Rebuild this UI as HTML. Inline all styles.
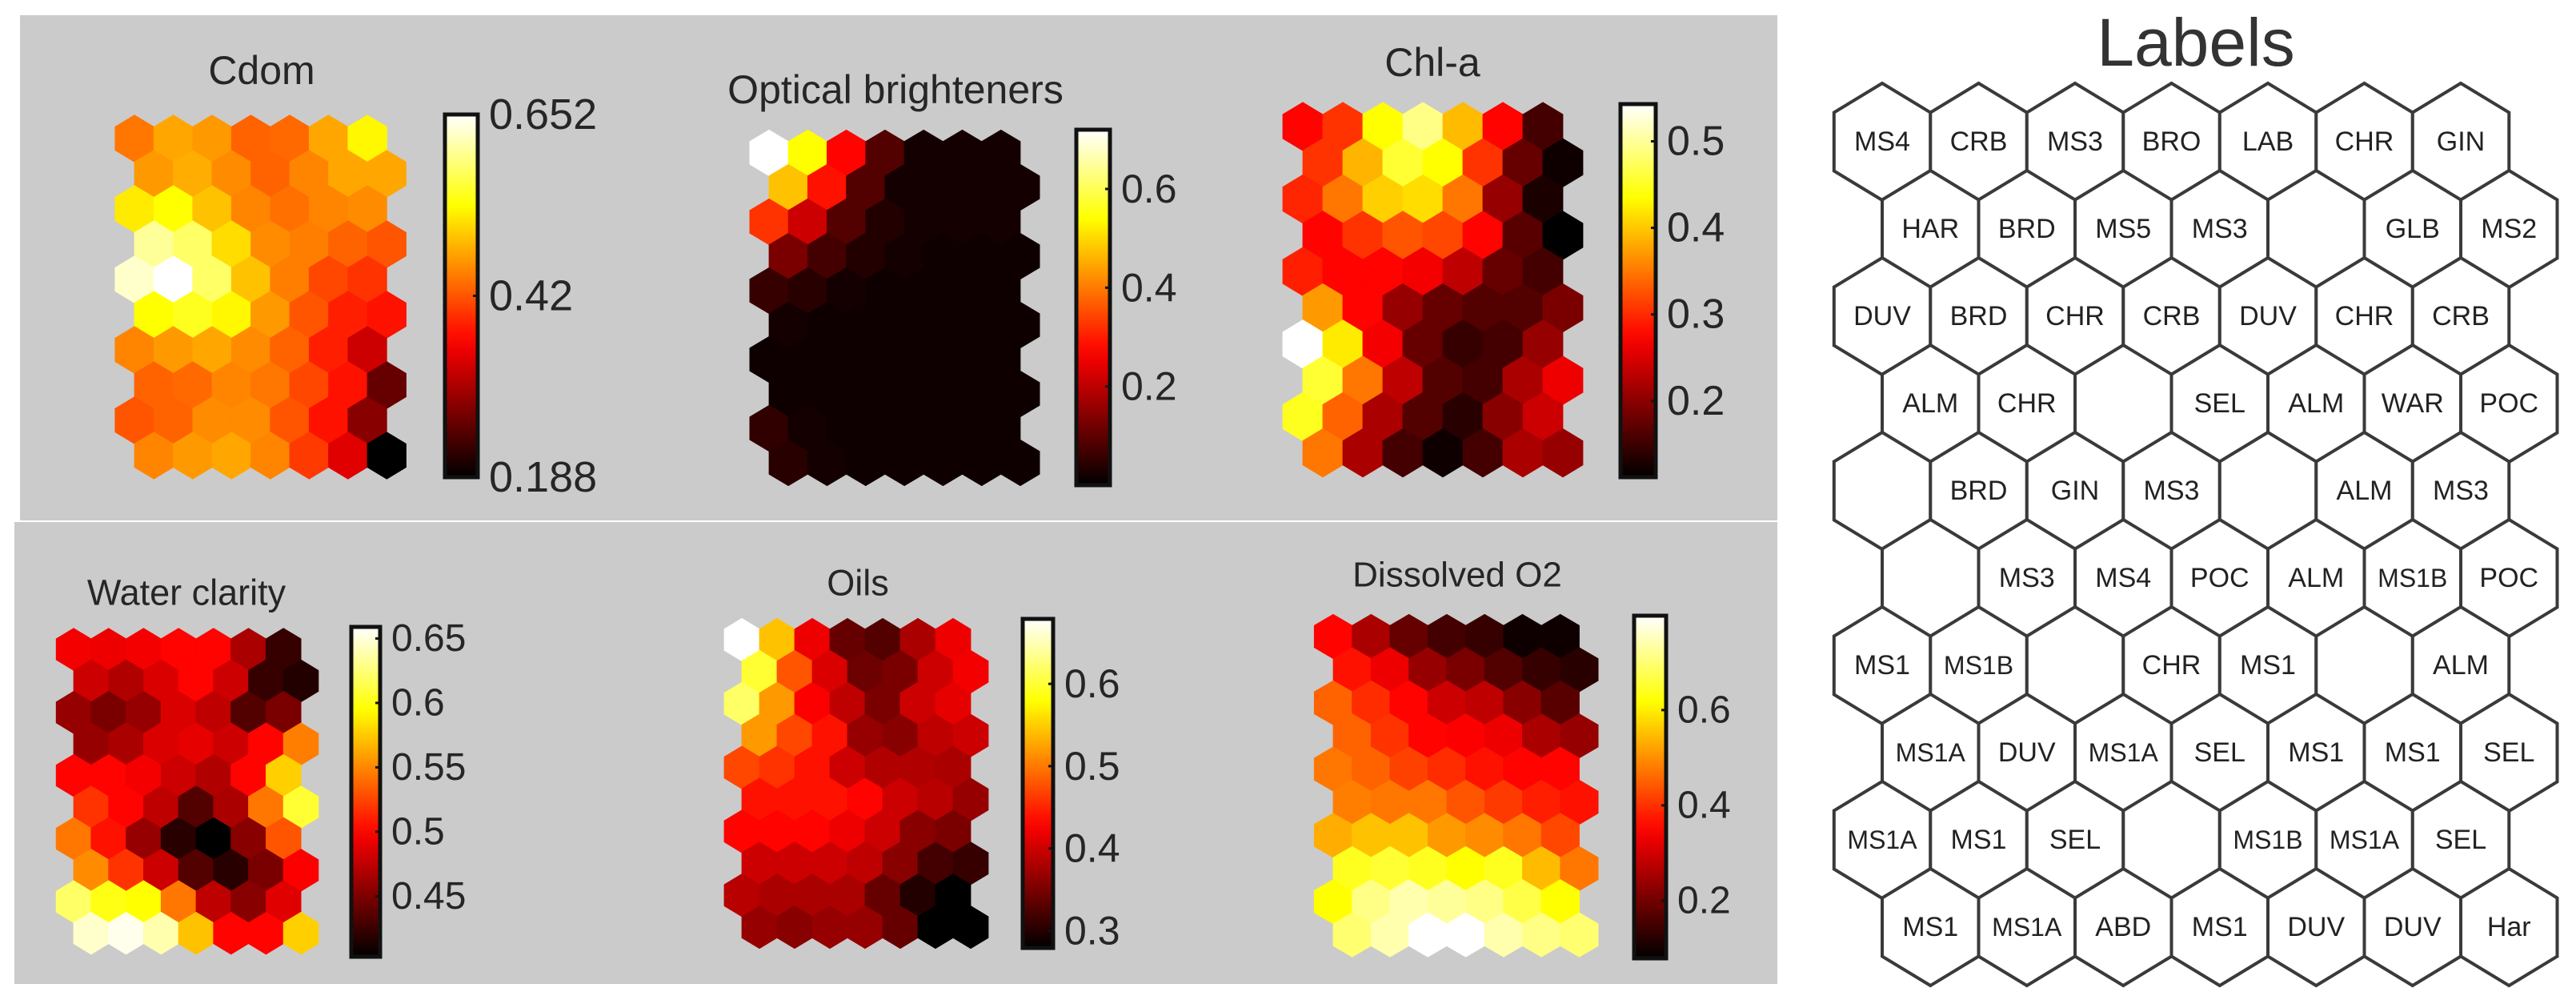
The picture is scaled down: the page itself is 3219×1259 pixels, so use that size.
<!DOCTYPE html>
<html>
<head>
<meta charset="utf-8">
<style>
html,body{margin:0;padding:0;background:#ffffff;}
svg{display:block;}
text{font-family:"Liberation Sans",Arial,sans-serif;}
</style>
</head>
<body>
<svg id="fig" width="3219" height="1259" viewBox="0 0 3219 1259" xmlns="http://www.w3.org/2000/svg">
  <rect x="25" y="19" width="2196" height="631" fill="#cbcbcb"/>
  <rect x="18" y="652" width="2203" height="577" fill="#cbcbcb"/>
  <g id="maps"></g>
  <g id="labels">
    <text x="2744" y="53" font-size="84" fill="#333" text-anchor="middle" dominant-baseline="central">Labels</text>
  </g>
</svg>
<script>
// Normalised values (fraction of each colourbar range), rows top to bottom, 7 columns each
const cdomLevel = [
[.55,.62,.60,.52,.53,.62,.74],
[.60,.63,.58,.52,.57,.62,.62],
[.72,.75,.66,.57,.54,.57,.58],
[.90,.85,.70,.58,.56,.52,.50],
[.95,1.0,.85,.66,.56,.48,.45],
[.75,.78,.74,.60,.50,.42,.40],
[.57,.60,.62,.58,.52,.42,.30],
[.52,.53,.57,.55,.48,.40,.15],
[.50,.52,.58,.58,.50,.40,.20],
[.57,.60,.62,.57,.46,.33,.00]];
const opticalLevel = [
[1.0,.75,.38,.12,.03,.03,.03],
[.66,.40,.12,.03,.03,.03,.03],
[.45,.30,.12,.05,.03,.03,.03],
[.18,.10,.05,.03,.02,.02,.02],
[.08,.06,.03,.02,.02,.02,.02],
[.03,.02,.02,.02,.02,.02,.02],
[.02,.02,.02,.02,.02,.02,.02],
[.02,.02,.02,.02,.02,.02,.02],
[.07,.03,.02,.02,.02,.02,.02],
[.06,.03,.02,.02,.02,.02,.02]];
const chlaLevel = [
[.38,.45,.75,.88,.65,.38,.10],
[.45,.64,.80,.75,.45,.15,.02],
[.43,.55,.68,.70,.55,.22,.04],
[.38,.45,.50,.48,.38,.13,.00],
[.42,.38,.38,.36,.28,.15,.10],
[.60,.38,.22,.15,.12,.12,.18],
[1.0,.72,.36,.15,.08,.10,.22],
[.80,.55,.28,.12,.10,.25,.35],
[.78,.52,.25,.12,.06,.20,.30],
[.55,.25,.10,.02,.10,.25,.22]];
const waterLevel = [
[.36,.35,.36,.38,.38,.25,.08],
[.30,.26,.32,.38,.30,.08,.05],
[.22,.18,.22,.32,.28,.12,.18],
[.22,.25,.32,.34,.30,.38,.56],
[.38,.38,.36,.30,.26,.38,.68],
[.45,.38,.28,.12,.25,.55,.80],
[.55,.40,.22,.06,.00,.20,.50],
[.58,.45,.30,.12,.06,.18,.37],
[.85,.77,.75,.55,.28,.20,.33],
[.95,.98,.92,.66,.38,.38,.68]];
const oilsLevel = [
[1.0,.66,.35,.15,.12,.25,.35],
[.80,.50,.32,.16,.18,.30,.36],
[.85,.60,.37,.28,.18,.30,.34],
[.60,.48,.40,.22,.20,.28,.30],
[.48,.45,.40,.30,.26,.26,.25],
[.40,.40,.40,.38,.30,.27,.22],
[.38,.38,.38,.35,.30,.20,.18],
[.30,.30,.30,.28,.20,.10,.08],
[.27,.25,.25,.25,.15,.05,.00],
[.22,.20,.22,.22,.15,.00,.00]];
const doLevel = [
[.38,.25,.15,.10,.08,.02,.02],
[.40,.35,.22,.18,.12,.08,.06],
[.52,.44,.38,.30,.28,.20,.13],
[.52,.45,.38,.37,.35,.25,.22],
[.55,.52,.47,.44,.40,.38,.38],
[.56,.55,.55,.50,.46,.42,.40],
[.63,.66,.66,.60,.58,.55,.48],
[.78,.80,.78,.75,.78,.65,.55],
[.75,.88,.92,.90,.88,.82,.75],
[.86,.92,1.0,1.0,.92,.88,.86]];

const cdomTicks = [0.188, 0.42, 0.652];
const cdomTickLabels = ["0.188","0.42","0.652"];
const opticalTicks = [0.2, 0.4, 0.6];
const opticalTickLabels = ["0.2","0.4","0.6"];
const chlaTicks = [0.2, 0.3, 0.4, 0.5];
const chlaTickLabels = ["0.2","0.3","0.4","0.5"];
const waterTicks = [0.45, 0.5, 0.55, 0.6, 0.65];
const waterTickLabels = ["0.45","0.5","0.55","0.6","0.65"];
const oilsTicks = [0.3, 0.4, 0.5, 0.6];
const oilsTickLabels = ["0.3","0.4","0.5","0.6"];
const doTicks = [0.2, 0.4, 0.6];
const doTickLabels = ["0.2","0.4","0.6"];

const labelNames = [
["MS4","CRB","MS3","BRO","LAB","CHR","GIN"],
["HAR","BRD","MS5","MS3","","GLB","MS2"],
["DUV","BRD","CHR","CRB","DUV","CHR","CRB"],
["ALM","CHR","","SEL","ALM","WAR","POC"],
["","BRD","GIN","MS3","","ALM","MS3"],
["","MS3","MS4","POC","ALM","MS1B","POC"],
["MS1","MS1B","","CHR","MS1","","ALM"],
["MS1A","DUV","MS1A","SEL","MS1","MS1","SEL"],
["MS1A","MS1","SEL","","MS1B","MS1A","SEL"],
["MS1","MS1A","ABD","MS1","DUV","DUV","Har"]];

const NS = "http://www.w3.org/2000/svg";
function hot(t){
  t = Math.max(0, Math.min(1, t));
  const r = Math.min(1, t/0.375);
  const g = Math.max(0, Math.min(1, (t-0.375)/0.375));
  const b = Math.max(0, Math.min(1, (t-0.75)/0.25));
  return "rgb(" + Math.round(r*255) + "," + Math.round(g*255) + "," + Math.round(b*255) + ")";
}
function hexPts(cx, cy, w, R){
  return [[cx,cy-R],[cx+w,cy-R/2],[cx+w,cy+R/2],[cx,cy+R],[cx-w,cy+R/2],[cx-w,cy-R/2]].map(p=>p[0].toFixed(1)+","+p[1].toFixed(1)).join(" ");
}
const mapsG = document.getElementById("maps");
let gradId = 0;
function drawMap(name, title, levels, lo, hi, ticks, tickLabels, c){
  const g = document.createElementNS(NS, "g");
  
  
  mapsG.appendChild(g);
  const t = document.createElementNS(NS, "text");
  
  
  t.setAttribute("x", c.tx); t.setAttribute("y", c.ty);
  t.setAttribute("font-size", c.tf); t.setAttribute("fill", "#262626");
  t.setAttribute("text-anchor", "middle"); t.setAttribute("dominant-baseline", "central");
  t.textContent = title; g.appendChild(t);
  const R = c.dy / 1.5, w = c.dx / 2;
  const colorScale = v => hot((v - lo) / (hi - lo));
  levels.forEach((row, r) => {
    row.forEach((lv, k) => {
      const v = lo + lv * (hi - lo);
      const cx = c.x0 + k * c.dx + (r % 2 ? c.dx / 2 : 0);
      const cy = c.y0 + r * c.dy;
      const p = document.createElementNS(NS, "polygon");
      
      
      p.setAttribute("points", hexPts(cx, cy, w, R));
      const col = colorScale(v);
      p.setAttribute("fill", col); p.setAttribute("stroke", col); p.setAttribute("stroke-width", "0.8");
      g.appendChild(p);
    });
  });
  // colourbar
  const id = "grad" + (gradId++);
  const defs = document.createElementNS(NS, "defs");
  const lg = document.createElementNS(NS, "linearGradient");
  lg.setAttribute("id", id); lg.setAttribute("x1","0"); lg.setAttribute("y1","1"); lg.setAttribute("x2","0"); lg.setAttribute("y2","0");
  for (let i = 0; i <= 20; i++){
    const s = document.createElementNS(NS, "stop");
    s.setAttribute("offset", (i/20).toFixed(2)); s.setAttribute("stop-color", hot(i/20));
    lg.appendChild(s);
  }
  defs.appendChild(lg); g.appendChild(defs);
  const cb = document.createElementNS(NS, "rect");
  
  
  cb.setAttribute("x", c.cbx); cb.setAttribute("y", c.cby); cb.setAttribute("width", c.cbw); cb.setAttribute("height", c.cbh);
  cb.setAttribute("fill", "url(#" + id + ")"); cb.setAttribute("stroke", "#111"); cb.setAttribute("stroke-width", "5");
  g.appendChild(cb);
  const yScale = v => c.cby + c.cbh - (v - lo) / (hi - lo) * c.cbh;
  ticks.forEach((tv, i) => {
    const y = yScale(tv);
    const tk = document.createElementNS(NS, "line");
    
    
    tk.setAttribute("x1", c.cbx + c.cbw - 6); tk.setAttribute("x2", c.cbx + c.cbw);
    tk.setAttribute("y1", y); tk.setAttribute("y2", y);
    tk.setAttribute("stroke", "#111"); tk.setAttribute("stroke-width", "3");
    g.appendChild(tk);
    const lt = document.createElementNS(NS, "text");
    
    
    lt.setAttribute("x", c.cbx + c.cbw + 14); lt.setAttribute("y", y);
    lt.setAttribute("font-size", c.lf); lt.setAttribute("fill", "#262626");
    lt.setAttribute("dominant-baseline", "central");
    lt.textContent = tickLabels[i]; g.appendChild(lt);
  });
}
drawMap("cdom","Cdom",cdomLevel,0.188,0.652,cdomTicks,cdomTickLabels,{x0:168,dx:48.5,y0:173,dy:44,cbx:556,cby:143,cbw:41,cbh:453,tx:327,ty:88,tf:50,lf:54});
drawMap("optical-brighteners","Optical brighteners",opticalLevel,0,0.72,opticalTicks,opticalTickLabels,{x0:961,dx:48.3,y0:191,dy:43,cbx:1345,cby:162,cbw:42,cbh:444,tx:1119,ty:112,tf:50,lf:50});
drawMap("chl-a","Chl-a",chlaLevel,0.112,0.543,chlaTicks,chlaTickLabels,{x0:1628,dx:50,y0:158,dy:45.3,cbx:2025,cby:130,cbw:44,cbh:466,tx:1790,ty:78,tf:50,lf:52});
drawMap("water-clarity","Water clarity",waterLevel,0.403,0.659,waterTicks,waterTickLabels,{x0:92,dx:43.7,y0:811,dy:39.4,cbx:439,cby:783,cbw:36,cbh:412,tx:233,ty:740,tf:45,lf:48});
drawMap("oils","Oils",oilsLevel,0.279,0.679,oilsTicks,oilsTickLabels,{x0:927,dx:44,y0:799,dy:39.9,cbx:1278,cby:773,cbw:38,cbh:411,tx:1072,ty:728,tf:45,lf:50});
drawMap("dissolved-o2","Dissolved O2",doLevel,0.079,0.798,doTicks,doTickLabels,{x0:1666,dx:47.3,y0:795,dy:41.4,cbx:2042,cby:769,cbw:40,cbh:428,tx:1821,ty:718,tf:44,lf:48});

// Labels hex grid
const labG = document.getElementById("labels");
const LX0 = 2352, LDX = 120.5, LY0 = 177, LDY = 109, LR = 73;
labelNames.forEach((row, r) => {
  row.forEach((nm, k) => {
    const cx = LX0 + k * LDX + (r % 2 ? LDX / 2 : 0);
    const cy = LY0 + r * LDY;
    const p = document.createElementNS(NS, "polygon");
    
    
    p.setAttribute("points", hexPts(cx, cy, LDX / 2, LR));
    p.setAttribute("fill", "#ffffff"); p.setAttribute("stroke", "#3a3a3a"); p.setAttribute("stroke-width", "4");
    labG.appendChild(p);
  });
});
labelNames.forEach((row, r) => {
  row.forEach((nm, k) => {
    if (!nm) return;
    const cx = LX0 + k * LDX + (r % 2 ? LDX / 2 : 0);
    const cy = LY0 + r * LDY;
    const t = document.createElementNS(NS, "text");
    
    
    t.setAttribute("x", cx); t.setAttribute("y", cy);
    t.setAttribute("font-size", nm.length > 3 ? 32 : 34); t.setAttribute("fill", "#222");
    t.setAttribute("text-anchor", "middle"); t.setAttribute("dominant-baseline", "central");
    t.textContent = nm; labG.appendChild(t);
  });
});
</script>
</body>
</html>
